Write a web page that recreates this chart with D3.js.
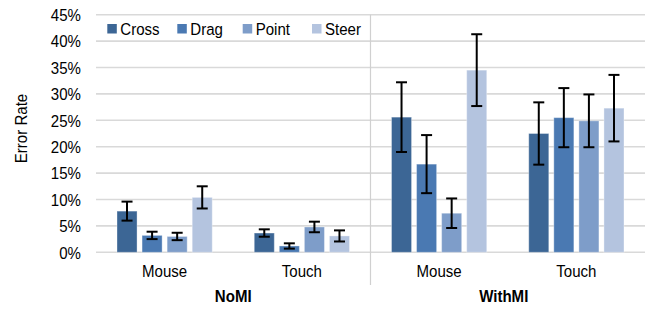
<!DOCTYPE html>
<html>
<head>
<meta charset="utf-8">
<script src="https://cdn.jsdelivr.net/npm/d3@7"></script>
<style>
  body { margin: 0; background: #fff; }
  text { font-family: "Liberation Sans", Arial, sans-serif; fill: #000; }
</style>
</head>
<body>
<div id="chart"></div>
<script>
// groups and categories on the x axis
var groups = ["NoMI", "WithMI"];
var devices = ["Mouse", "Touch"];
var series = ["Cross", "Drag", "Point", "Steer"];
var colors = ["#3c6695", "#4a79b2", "#7e9dc9", "#b4c4df"];

// error rate per series, in order NoMI-Mouse, NoMI-Touch, WithMI-Mouse, WithMI-Touch
var cross = [0.078, 0.0365, 0.256, 0.225];
var drag  = [0.032, 0.012, 0.167, 0.255];
var point = [0.030, 0.048, 0.074, 0.249];
var steer = [0.104, 0.031, 0.345, 0.273];

// half length of the error bars
var crossErr = [0.018, 0.007, 0.066, 0.059];
var dragErr  = [0.007, 0.005, 0.055, 0.056];
var pointErr = [0.007, 0.010, 0.028, 0.050];
var steerErr = [0.021, 0.0105, 0.068, 0.063];

var yTicks = [0, 0.05, 0.10, 0.15, 0.20, 0.25, 0.30, 0.35, 0.40, 0.45];

var values = [cross, drag, point, steer];
var errors = [crossErr, dragErr, pointErr, steerErr];

var width = 648, height = 310;
var plotLeft = 96, plotRight = 645, plotTop = 14.7, plotBottom = 252.3;
var sx = 0.885; // text is a bit narrower than the font

var svg = d3.select("#chart").append("svg")
  .attr("width", width).attr("height", height);

// one slot per group/device pair
var slots = [];
groups.forEach(function(g) {
  devices.forEach(function(d) { slots.push(g + "|" + d); });
});

var x = d3.scaleBand().domain(slots).range([plotLeft, plotRight]);
var x1 = d3.scaleBand().domain(series).range([21, x.bandwidth() - 21]).paddingInner(0.2);
var y = d3.scaleLinear().domain([0, 0.45]).range([plotBottom, plotTop]);

// gridlines
svg.append("g").selectAll("line")
  .data(yTicks)
  .enter().append("line")
  .attr("x1", plotLeft).attr("x2", plotRight)
  .attr("y1", function(d) { return y(d); })
  .attr("y2", function(d) { return y(d); })
  .attr("stroke", "#d9d9d9")
  .attr("stroke-width", 1.6);

// y axis labels
var yAxis = svg.append("g")
  .attr("transform", "translate(" + plotLeft + ",0)")
  .call(d3.axisLeft(y).tickValues(yTicks).tickSize(0).tickPadding(17)
    .tickFormat(d3.format(".0%")));
yAxis.select(".domain").remove();
yAxis.selectAll("text")
  .attr("font-family", "Liberation Sans, Arial, sans-serif")
  .attr("font-size", 17)
  .attr("fill", "#000")
  .attr("dy", "0.34em")
  .attr("transform", "scale(" + sx + ",1)");

// y title
svg.append("text")
  .attr("transform", "translate(27,128.5) rotate(-90) scale(" + sx + ",1)")
  .attr("text-anchor", "middle")
  .attr("font-size", 17)
  .text("Error Rate");

// divider between groups
svg.append("line")
  .attr("x1", x(slots[2])).attr("x2", x(slots[2]))
  .attr("y1", plotTop).attr("y2", 285)
  .attr("stroke", "#d0d0d0")
  .attr("stroke-width", 1.2);

// bars
var slotG = svg.append("g").selectAll("g")
  .data(slots)
  .enter().append("g")
  .attr("transform", function(d) { return "translate(" + x(d) + ",0)"; });

slotG.each(function(slot, i) {
  var g = d3.select(this);
  series.forEach(function(s, k) {
    var v = values[k][i], e = errors[k][i];
    var bx = x1(s);
    g.append("rect")
      .attr("x", bx)
      .attr("y", y(v))
      .attr("width", x1.bandwidth())
      .attr("height", y(0) - y(v))
      .attr("fill", colors[k])
      .attr("stroke", "rgba(255,255,255,0.35)")
      .attr("stroke-width", 1);
    var cx = bx + x1.bandwidth() / 2;
    var eb = g.append("g").attr("stroke", "#000").attr("stroke-width", 2);
    eb.append("line").attr("x1", cx).attr("x2", cx).attr("y1", y(v + e)).attr("y2", y(v - e));
    eb.append("line").attr("x1", cx - 5.5).attr("x2", cx + 5.5).attr("y1", y(v + e)).attr("y2", y(v + e));
    eb.append("line").attr("x1", cx - 5.5).attr("x2", cx + 5.5).attr("y1", y(v - e)).attr("y2", y(v - e));
  });
});

// device labels
svg.append("g").selectAll("text")
  .data(slots)
  .enter().append("text")
  .attr("transform", function(d) {
    return "translate(" + (x(d) + x.bandwidth() / 2) + ",276.5) scale(" + sx + ",1)";
  })
  .attr("text-anchor", "middle")
  .attr("font-size", 17)
  .text(function(d) { return d.split("|")[1]; });

// group labels
svg.append("g").selectAll("text")
  .data(groups)
  .enter().append("text")
  .attr("transform", function(d, i) {
    var cx = x(d + "|Mouse") + x.bandwidth() - i * 4;
    return "translate(" + cx + ",301.5) scale(" + sx + ",1)";
  })
  .attr("text-anchor", "middle")
  .attr("font-size", 17)
  .attr("font-weight", "bold")
  .text(function(d) { return d; });

// legend
var legendX = [107.3, 177.3, 242.7, 312];
var legend = svg.append("g").selectAll("g")
  .data(series)
  .enter().append("g")
  .attr("transform", function(d, i) { return "translate(" + legendX[i] + ",24)"; });
legend.append("rect")
  .attr("width", 9.5).attr("height", 9.5)
  .attr("fill", function(d, i) { return colors[i]; });
legend.append("text")
  .attr("transform", "translate(13,10.8) scale(" + sx + ",1)")
  .attr("font-size", 17)
  .text(function(d) { return d; });
</script>
</body>
</html>
